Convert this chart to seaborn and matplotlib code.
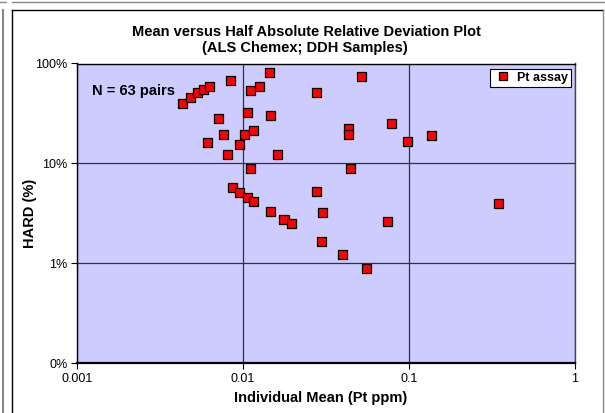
import numpy as np
import pandas as pd
import matplotlib
matplotlib.use("Agg")
import matplotlib.pyplot as plt
import seaborn as sns
from matplotlib.ticker import FixedLocator, FixedFormatter, NullLocator
from matplotlib.lines import Line2D

# individual mean (Pt ppm) and HARD (%)
mean_pt = [0.00430, 0.00480, 0.00533, 0.00582, 0.00632, 0.00836, 0.01439, 0.01111,
           0.01261, 0.0278, 0.01062, 0.01469, 0.00709, 0.00760, 0.01014, 0.01164,
           0.00607, 0.00959, 0.00809, 0.0161, 0.01111, 0.0514, 0.0780, 0.0430,
           0.0430, 0.137, 0.0982, 0.0442, 0.00862, 0.00959, 0.01062, 0.01164,
           0.01469, 0.01766, 0.0197, 0.0278, 0.0303, 0.0298, 0.0399, 0.0747,
           0.0551, 0.345]
hard_pct = [40.1, 46.0, 51.2, 55.3, 58.3, 68.0, 80.4, 53.2,
            58.3, 51.6, 32.3, 30.2, 28.0, 19.4, 19.4, 21.2,
            16.2, 15.3, 12.2, 12.2, 8.81, 74.6, 25.1, 22.1,
            19.4, 18.9, 16.4, 8.81, 5.70, 5.08, 4.59, 4.19,
            3.33, 2.75, 2.49, 5.27, 3.21, 1.63, 1.22, 2.61,
            0.879, 3.95]

x_ticks = [0.001, 0.01, 0.1, 1]
x_labels = ["0.001", "0.01", "0.1", "1"]
y_ticks = [0.1, 1, 10, 100]
y_labels = ["0%", "1%", "10%", "100%"]

df = pd.DataFrame({"mean": mean_pt, "hard": hard_pct, "series": "Pt assay"})

plt.rcParams["font.family"] = ["Liberation Sans", "DejaVu Sans"]

W, H = 605, 413
fig = plt.figure(figsize=(6.05, 4.13), dpi=100)
ax = fig.add_axes([77 / W, 1 - 363 / H, 498 / W, 299.5 / H])


def fig_line(x0, y0, x1, y1, color, lw=1.0):
    # pixel coords, origin top-left
    fig.lines.append(Line2D([x0 / W, x1 / W], [1 - y0 / H, 1 - y1 / H],
                            transform=fig.transFigure, color=color, linewidth=lw))


# chart borders (this chart + neighbouring frames)
fig_line(12, 10, 12, 413, "black")
fig_line(12, 10, 603, 10, "black")
fig_line(603, 10, 603, 413, "#888888")
fig_line(2.5, 10, 2.5, 413, "#888888", 1.5)
fig_line(12, 2, 605, 2, "#888888")
fig_line(0, 1.5, 6, 1.5, "#888888")

ax.set_facecolor("#CCCCFF")
ax.set_xscale("log")
ax.set_yscale("log")
ax.set_xlim(0.001, 1)
ax.set_ylim(0.1, 100)

ax.xaxis.set_major_locator(FixedLocator(x_ticks))
ax.xaxis.set_major_formatter(FixedFormatter(x_labels))
ax.xaxis.set_minor_locator(NullLocator())
ax.yaxis.set_major_locator(FixedLocator(y_ticks))
ax.yaxis.set_major_formatter(FixedFormatter(y_labels))
ax.yaxis.set_minor_locator(NullLocator())

ax.grid(True, which="major", color="#333333", linewidth=0.9)
ax.set_axisbelow(True)

sns.scatterplot(data=df, x="mean", y="hard", hue="series", palette=["#FF0000"],
                marker="s", s=42, edgecolor="black", linewidth=0.9,
                ax=ax, zorder=3)

for sp in ax.spines.values():
    sp.set_color("black")
    sp.set_linewidth(1.0)
ax.spines["right"].set_color("#444444")
ax.spines["bottom"].set_linewidth(1.6)

ax.tick_params(axis="both", labelsize=9, length=4, width=0.8, direction="out", pad=3)

ax.set_xlabel("Individual Mean (Pt ppm)", fontsize=10.5, fontweight="bold")
ax.set_ylabel("HARD (%)", fontsize=10.5, fontweight="bold")
ax.xaxis.set_label_coords(0.49, -0.117)
ax.xaxis.label.set_va("center")
ax.yaxis.set_label_coords(-0.094, 0.5)
ax.yaxis.label.set_va("center")

fig.text(306 / W, 1 - 31.5 / H,
         "Mean versus Half Absolute Relative Deviation Plot",
         ha="center", va="center", fontsize=10.5, fontweight="bold")
fig.text(305 / W, 1 - 48 / H,
         "(ALS Chemex; DDH Samples)",
         ha="center", va="center", fontsize=10.5, fontweight="bold")

ax.text(0.00123, 53, "N = 63 pairs", fontsize=10.5, fontweight="bold", va="center")

leg = ax.legend(loc="upper right", bbox_to_anchor=(0.992, 0.983), frameon=True,
                fancybox=False, edgecolor="black", facecolor="white",
                framealpha=1, fontsize=9, handletextpad=0.3,
                borderpad=0.25, borderaxespad=0, markerscale=0.8,
                handlelength=1.6)
leg.get_frame().set_linewidth(0.8)
for t in leg.get_texts():
    t.set_fontweight("bold")

fig.savefig("out.png", dpi=100)
